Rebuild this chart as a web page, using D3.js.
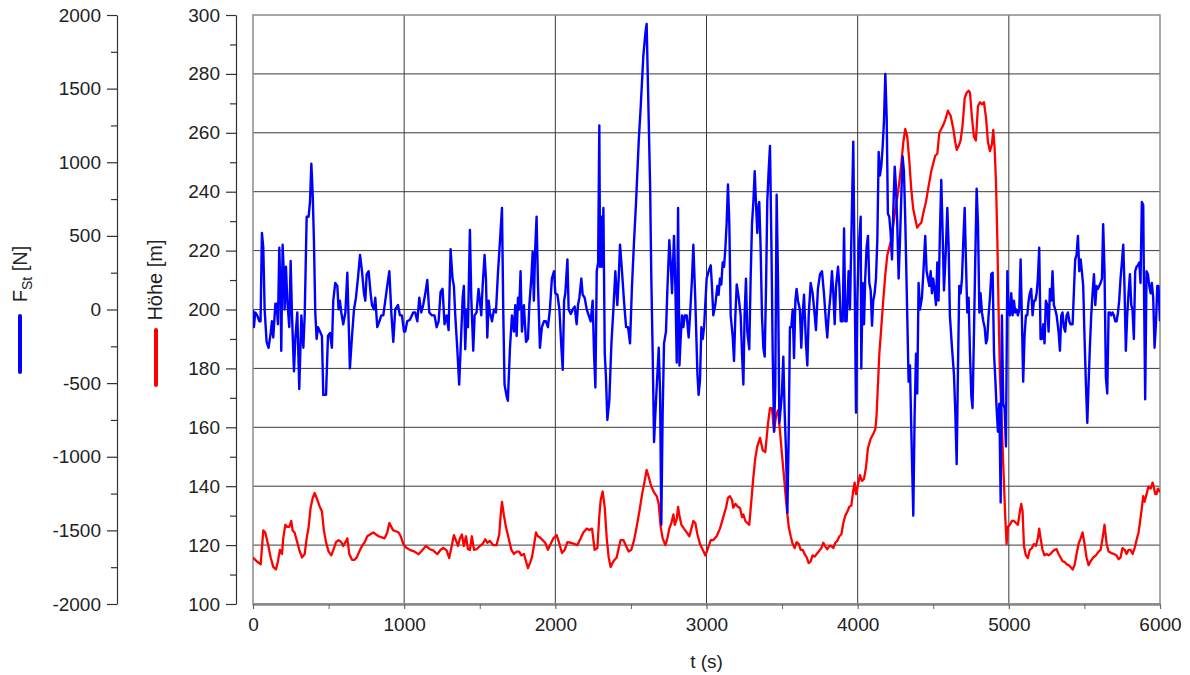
<!DOCTYPE html>
<html>
<head>
<meta charset="utf-8">
<script src="https://cdn.jsdelivr.net/npm/d3@7"></script>
<style>
  body { margin: 0; background: #fff; }
  svg { font-family: "Liberation Sans", Arial, sans-serif; }
</style>
</head>
<body>
<div id="chart"></div>
<script>
// t in s, force in N (blue series)
const forceSeries = [[0,0],[6,-120],[15,-20],[28,-40],[42,-80],[50,-80],[59,520],[68,420],[77,0],[90,-220],[103,-260],[117,-160],[125,-80],[134,-190],[148,40],[156,40],[165,-100],[174,420],[183,80],[187,-280],[196,440],[205,220],[209,0],[218,290],[227,60],[240,-120],[249,330],[258,-40],[271,-420],[280,-200],[293,-20],[306,-540],[320,-40],[333,-260],[342,-40],[355,630],[368,630],[377,730],[386,990],[395,780],[403,470],[412,-20],[421,-200],[430,-120],[443,-150],[456,-180],[465,-580],[483,-580],[496,-180],[509,-160],[522,-260],[531,60],[544,180],[558,160],[566,0],[575,60],[584,-20],[597,-100],[611,-20],[624,250],[641,-400],[655,-180],[668,0],[681,80],[694,210],[708,370],[721,260],[734,110],[743,60],[752,240],[765,260],[778,110],[787,30],[800,0],[809,80],[822,-120],[836,-80],[849,-40],[862,-40],[875,60],[888,160],[902,260],[915,-20],[928,-220],[941,0],[959,30],[972,-40],[985,-40],[999,-150],[1007,-150],[1020,-80],[1038,-70],[1060,-20],[1073,-20],[1087,-80],[1100,80],[1113,-20],[1126,30],[1140,110],[1153,200],[1166,-20],[1184,-40],[1201,-40],[1215,-120],[1228,-80],[1241,120],[1254,140],[1267,-100],[1281,-40],[1294,-140],[1307,410],[1320,210],[1329,160],[1338,-40],[1351,-260],[1364,-510],[1378,-150],[1387,80],[1395,160],[1404,-270],[1413,0],[1422,-120],[1435,540],[1444,80],[1457,-280],[1466,-40],[1479,-20],[1492,140],[1501,60],[1510,-40],[1519,160],[1532,370],[1541,210],[1550,-190],[1559,60],[1567,-20],[1581,-80],[1594,0],[1607,-20],[1620,240],[1634,470],[1647,690],[1656,-40],[1664,-510],[1678,-590],[1686,-620],[1700,-260],[1713,-40],[1726,-150],[1735,30],[1744,-180],[1753,80],[1761,0],[1770,260],[1779,-150],[1792,30],[1806,-220],[1819,-200],[1828,30],[1841,210],[1850,390],[1858,60],[1867,420],[1876,630],[1885,180],[1898,-260],[1911,-120],[1925,-80],[1938,-80],[1951,-120],[1964,0],[1977,210],[1991,260],[2000,110],[2014,100],[2027,0],[2040,-260],[2049,-410],[2058,60],[2066,110],[2080,340],[2088,0],[2102,-30],[2115,0],[2128,20],[2141,-100],[2150,30],[2159,80],[2172,210],[2181,100],[2194,80],[2208,0],[2221,-40],[2234,-80],[2247,60],[2256,-300],[2265,-530],[2274,260],[2283,320],[2291,1250],[2296,290],[2305,630],[2309,290],[2318,690],[2327,-300],[2335,-460],[2344,-750],[2357,-620],[2371,-230],[2384,0],[2397,260],[2410,30],[2419,210],[2428,440],[2441,260],[2454,60],[2468,-120],[2481,-120],[2494,-230],[2507,160],[2521,470],[2534,730],[2552,1150],[2565,1380],[2582,1720],[2596,1880],[2604,1940],[2613,1510],[2627,840],[2635,210],[2644,-300],[2653,-900],[2662,-700],[2675,-440],[2684,-260],[2693,-570],[2701,-1460],[2710,-700],[2719,-230],[2732,-150],[2741,130],[2754,470],[2763,320],[2772,110],[2785,500],[2794,160],[2803,-360],[2812,690],[2821,-380],[2829,-200],[2838,-40],[2847,-120],[2856,-40],[2869,-40],[2882,-190],[2891,-40],[2904,210],[2913,440],[2926,60],[2940,-440],[2948,-580],[2957,-480],[2966,-120],[2975,-200],[2984,-120],[3001,210],[3014,260],[3028,300],[3036,160],[3045,-40],[3058,30],[3072,160],[3080,100],[3089,210],[3098,170],[3107,320],[3116,290],[3125,420],[3133,580],[3142,850],[3151,580],[3160,-40],[3173,-180],[3182,-350],[3191,-40],[3200,170],[3213,80],[3226,-40],[3235,-300],[3244,-510],[3252,-40],[3261,210],[3270,-150],[3283,-270],[3292,210],[3301,580],[3310,730],[3319,940],[3327,730],[3336,520],[3345,710],[3349,730],[3358,420],[3367,-40],[3376,-260],[3385,-320],[3394,160],[3402,730],[3411,940],[3420,1110],[3429,470],[3438,-300],[3447,-830],[3455,-510],[3464,780],[3473,210],[3482,-770],[3491,-670],[3499,-570],[3508,-320],[3517,-700],[3526,-960],[3535,-1380],[3544,-830],[3552,-120],[3561,-120],[3570,0],[3579,-330],[3588,60],[3596,140],[3605,60],[3618,0],[3627,-260],[3636,-40],[3645,100],[3658,-230],[3667,-380],[3676,-40],[3689,180],[3702,110],[3716,-40],[3724,-140],[3737,140],[3751,240],[3764,260],[3777,110],[3790,-80],[3799,-190],[3808,-40],[3821,110],[3830,260],[3839,110],[3848,-100],[3857,160],[3870,290],[3879,160],[3888,-80],[3901,-80],[3910,550],[3918,-80],[3927,-80],[3940,260],[3949,0],[3958,470],[3971,1140],[3980,210],[3989,-700],[3998,80],[4007,420],[4020,630],[4024,-400],[4033,180],[4042,-100],[4050,210],[4059,420],[4068,500],[4077,180],[4086,130],[4095,-110],[4103,60],[4112,110],[4121,210],[4130,470],[4139,1070],[4147,910],[4156,970],[4165,1100],[4174,1280],[4183,1600],[4192,1300],[4200,650],[4209,630],[4218,520],[4227,340],[4236,680],[4245,970],[4253,840],[4262,580],[4271,210],[4280,470],[4289,780],[4297,1040],[4306,940],[4315,600],[4328,-40],[4337,-490],[4346,-380],[4355,-830],[4368,-1400],[4377,-700],[4386,-300],[4394,-570],[4403,180],[4412,0],[4425,80],[4434,240],[4447,500],[4456,260],[4465,210],[4474,160],[4483,260],[4491,110],[4500,210],[4509,130],[4518,30],[4527,320],[4535,60],[4544,520],[4553,880],[4562,520],[4571,130],[4584,420],[4593,690],[4602,420],[4610,-40],[4624,-260],[4637,-440],[4646,-700],[4655,-1050],[4663,-440],[4672,160],[4681,110],[4690,210],[4699,470],[4708,690],[4716,340],[4725,-20],[4734,80],[4743,-300],[4752,-590],[4760,-670],[4769,-180],[4778,340],[4787,820],[4796,580],[4805,-20],[4813,110],[4822,-20],[4831,-80],[4840,-120],[4849,-230],[4857,-200],[4866,-40],[4875,80],[4884,240],[4893,250],[4902,-300],[4910,-460],[4919,-670],[4928,-830],[4937,-640],[4946,-1310],[4954,-40],[4963,-640],[4972,-670],[4981,-930],[4990,260],[4998,-20],[5007,-40],[5016,110],[5025,-40],[5034,60],[5042,-20],[5051,0],[5060,-40],[5069,0],[5078,340],[5086,-40],[5095,-490],[5104,-180],[5113,-40],[5122,-40],[5131,60],[5139,110],[5148,140],[5157,-40],[5166,60],[5175,60],[5184,110],[5192,210],[5201,420],[5210,-200],[5219,-200],[5228,-100],[5236,-230],[5245,60],[5254,30],[5263,-150],[5272,140],[5281,60],[5289,260],[5298,30],[5307,0],[5316,-40],[5329,-150],[5338,-280],[5347,-40],[5355,-20],[5364,-120],[5373,-150],[5382,-40],[5391,-20],[5400,-80],[5408,-100],[5422,-100],[5430,110],[5439,340],[5448,370],[5457,500],[5466,260],[5475,340],[5483,260],[5492,160],[5501,-200],[5510,-510],[5519,-770],[5528,-490],[5536,-260],[5545,-40],[5554,110],[5563,240],[5572,30],[5580,160],[5589,140],[5598,160],[5607,180],[5616,210],[5624,580],[5633,260],[5642,-460],[5651,-570],[5660,-20],[5669,-20],[5677,-40],[5686,-20],[5695,-40],[5704,-80],[5713,-80],[5722,-20],[5730,60],[5739,210],[5748,320],[5757,440],[5765,160],[5774,-280],[5783,-40],[5792,110],[5801,240],[5810,30],[5818,0],[5827,-200],[5836,260],[5845,290],[5854,300],[5863,320],[5871,180],[5880,730],[5889,710],[5893,260],[5902,-610],[5911,260],[5920,240],[5929,160],[5938,110],[5946,180],[5955,80],[5964,-260],[5973,-100],[5982,160],[5990,160],[6000,-80]];

// t in s, height in m (red series)
const heightSeries = [[0,115.8],[24,114.5],[51,113.5],[68,125],[81,124.3],[99,120.4],[117,115.8],[134,112.6],[152,111.7],[165,114.5],[178,118.4],[192,117],[200,122.3],[214,126.9],[227,126.2],[240,126.2],[253,128.2],[262,125],[275,124.3],[289,121.7],[306,118.4],[324,115.8],[342,117],[355,122.3],[368,126.2],[381,132.7],[395,136],[408,137.7],[421,136],[439,133.4],[456,131.4],[469,125],[483,121],[500,117.8],[518,116.5],[536,119],[549,121],[566,121.7],[584,121],[597,119.7],[611,121],[624,122.3],[637,117],[655,115],[672,115],[686,115.8],[703,117.8],[721,119.7],[739,121],[756,123],[774,123.6],[796,124.3],[814,123.6],[831,123],[853,122.6],[871,122.3],[888,124.3],[902,127.5],[915,126.2],[928,125],[946,124.7],[963,124.3],[977,123],[994,120.4],[1016,119],[1038,118.4],[1069,117.8],[1095,116.9],[1118,118.2],[1144,119.7],[1170,118.6],[1192,118.2],[1219,116.9],[1241,118.4],[1259,119],[1281,118.2],[1298,115.6],[1316,120],[1329,123.4],[1342,121.7],[1356,119.7],[1369,122.3],[1382,123.6],[1395,119.7],[1409,123],[1422,118.6],[1435,118.4],[1448,123],[1462,118.4],[1479,118.6],[1501,119.7],[1519,120.4],[1536,122],[1550,120.8],[1567,121.4],[1589,120],[1611,120],[1629,123.6],[1638,130],[1647,134.7],[1660,130],[1673,126.2],[1691,122.3],[1709,118.4],[1726,117],[1744,117.8],[1761,117.8],[1775,116.5],[1792,117],[1806,114.5],[1819,112.2],[1832,113.9],[1845,115.8],[1858,119.7],[1872,124.3],[1885,123],[1898,122.6],[1916,121.7],[1933,120.8],[1951,118.4],[1969,120.4],[1987,122.3],[2009,123.4],[2027,120.4],[2044,117.3],[2062,118.4],[2080,121],[2102,120.8],[2124,120.4],[2146,120],[2168,122.3],[2185,124.3],[2208,125.6],[2225,125.1],[2243,125.6],[2260,118.4],[2278,119],[2291,130],[2300,135.3],[2313,138.2],[2327,132.7],[2340,122.3],[2353,115.8],[2366,112.6],[2384,114.5],[2406,115.8],[2419,119],[2432,121.7],[2450,121.7],[2468,119.7],[2485,117.8],[2503,118.4],[2521,121.7],[2538,126.2],[2556,131.4],[2574,137.3],[2591,141.8],[2604,145.5],[2618,143.1],[2635,139.9],[2653,137.9],[2671,136.6],[2684,134],[2697,126.2],[2710,122.3],[2728,120],[2741,122.3],[2754,125.6],[2768,127.5],[2781,130.4],[2790,126.9],[2803,128.8],[2812,133],[2821,130],[2834,126.9],[2851,125.6],[2869,124.3],[2887,123],[2900,125.6],[2913,128.2],[2926,127.5],[2940,123.6],[2957,120.4],[2975,118.4],[2993,116.5],[3010,119],[3028,121.7],[3045,121.7],[3067,123],[3089,125.6],[3111,129.5],[3129,132.7],[3142,136],[3155,136.6],[3169,135.3],[3177,132.7],[3191,134],[3208,133],[3222,132.5],[3235,129.5],[3244,130.4],[3257,128.2],[3270,127.5],[3283,126.9],[3297,135.3],[3310,143.1],[3323,149.6],[3336,153.5],[3354,156.4],[3372,152.2],[3389,151.6],[3407,161.3],[3420,166.5],[3433,166.5],[3447,158.7],[3460,163.9],[3473,165.8],[3486,158.7],[3499,150.9],[3513,143.1],[3526,135.3],[3535,130.4],[3544,126.2],[3557,123],[3570,120.4],[3583,119],[3596,121],[3610,120.4],[3623,118.4],[3636,118.4],[3649,117],[3663,115.8],[3676,113.9],[3689,114.5],[3702,116.5],[3716,116.1],[3729,117],[3742,117.8],[3760,119],[3773,120.8],[3786,119.5],[3799,118.6],[3813,119.7],[3826,119.7],[3839,119],[3852,120.8],[3865,121.4],[3879,123],[3892,123.6],[3905,127.5],[3918,130],[3932,131.4],[3945,133],[3958,133.4],[3971,138.6],[3980,141.2],[3989,137.3],[4002,140.5],[4015,143.8],[4028,141.8],[4042,142.5],[4055,146.4],[4068,152.9],[4086,156.1],[4103,157.7],[4117,159.4],[4125,163.9],[4134,174.3],[4143,184.7],[4156,193.8],[4169,202.9],[4183,212],[4196,218.4],[4209,221],[4222,223.6],[4236,228.8],[4249,234],[4262,237.9],[4275,243.1],[4289,249.6],[4302,256.8],[4315,261.3],[4328,258.7],[4341,250.9],[4355,240.5],[4368,234],[4381,230.8],[4394,227.8],[4408,228.8],[4421,229.5],[4434,232.7],[4452,236.6],[4469,241.8],[4487,247],[4500,249.6],[4513,252.2],[4527,252.9],[4540,260],[4553,261.3],[4566,262.6],[4580,264.5],[4597,267.5],[4615,265.8],[4633,261.3],[4646,256.8],[4655,254.2],[4668,255.5],[4681,257.4],[4694,262.6],[4708,271.7],[4721,273.6],[4734,274.3],[4743,273.6],[4756,265.2],[4769,258.7],[4782,257.4],[4796,269.1],[4809,270.4],[4822,269.7],[4835,270.4],[4849,265.2],[4862,256.8],[4875,253.8],[4888,256.1],[4897,261],[4906,254.8],[4915,243.1],[4924,223.6],[4932,200.3],[4941,178.2],[4955,158.7],[4968,140.5],[4977,128.8],[4985,120.4],[4994,126.2],[5007,126.9],[5020,128.2],[5034,128.2],[5047,127.5],[5060,126.9],[5073,131.4],[5082,134],[5091,131.4],[5100,119.7],[5113,116.5],[5126,115.6],[5139,118.4],[5153,119],[5166,120.4],[5179,119.7],[5192,122.3],[5201,125.6],[5210,122.3],[5223,118.4],[5236,116.5],[5250,117],[5263,116.5],[5276,117],[5289,117.8],[5303,118.4],[5316,118.6],[5329,117],[5342,115.8],[5356,114.5],[5369,114.3],[5382,113.5],[5395,113.2],[5408,112.6],[5422,111.7],[5435,113.2],[5448,117],[5461,120.4],[5475,122.3],[5488,124.3],[5501,120.4],[5514,115.8],[5528,113.2],[5541,114.5],[5558,115.8],[5576,116.5],[5594,117.8],[5607,118.4],[5620,122.3],[5633,126.9],[5647,120.4],[5660,117.8],[5677,117.3],[5695,117],[5713,116.5],[5726,115.2],[5739,115.8],[5752,119],[5766,118.4],[5779,117],[5792,118.4],[5805,118.4],[5819,117],[5832,119],[5845,121.7],[5858,124.3],[5867,127.5],[5880,132.7],[5889,136.6],[5898,134.7],[5911,137.3],[5924,139.9],[5938,139.2],[5951,141.2],[5960,139.5],[5969,137.3],[5977,137.3],[5986,139.2],[6000,138]];

const timeTicks = [0, 1000, 2000, 3000, 4000, 5000, 6000];
const heightTicks = [100, 120, 140, 160, 180, 200, 220, 240, 260, 280, 300];
const forceTicks = [-2000, -1500, -1000, -500, 0, 500, 1000, 1500, 2000];

const width = 1190, height = 675;
const plot = { left: 253, right: 1160, top: 15, bottom: 604 };

const svg = d3.select("#chart").append("svg")
  .attr("width", width)
  .attr("height", height);

const x = d3.scaleLinear().domain([0, 6000]).range([plot.left, plot.right]);
const yH = d3.scaleLinear().domain([100, 300]).range([plot.bottom, plot.top]);
const yF = d3.scaleLinear().domain([-2000, 2000]).range([plot.bottom, plot.top]);

const plain = d => String(d); // no thousands separators, ascii minus

// grid
const grid = svg.append("g").attr("stroke", "#3a3a3a").attr("stroke-width", 1);
grid.selectAll(".gx").data(timeTicks.slice(1, -1)).enter().append("line")
  .attr("x1", d => x(d)).attr("x2", d => x(d))
  .attr("y1", plot.top).attr("y2", plot.bottom);
grid.selectAll(".gy").data(heightTicks.slice(1, -1)).enter().append("line")
  .attr("x1", plot.left).attr("x2", plot.right)
  .attr("y1", d => yH(d)).attr("y2", d => yH(d));

// frame
svg.append("rect")
  .attr("x", plot.left).attr("y", plot.top)
  .attr("width", plot.right - plot.left).attr("height", plot.bottom - plot.top)
  .attr("fill", "none").attr("stroke", "#8a8a8a").attr("stroke-width", 1.5);

// series
svg.append("clipPath").attr("id", "clip").append("rect")
  .attr("x", plot.left).attr("y", plot.top)
  .attr("width", plot.right - plot.left).attr("height", plot.bottom - plot.top);

svg.append("path")
  .datum(heightSeries)
  .attr("clip-path", "url(#clip)")
  .attr("fill", "none").attr("stroke", "#ff0000").attr("stroke-width", 2.3)
  .attr("stroke-linejoin", "round")
  .attr("d", d3.line().x(d => x(d[0])).y(d => yH(d[1])));

svg.append("path")
  .datum(forceSeries)
  .attr("clip-path", "url(#clip)")
  .attr("fill", "none").attr("stroke", "#0000ff").attr("stroke-width", 2.4)
  .attr("stroke-linejoin", "round")
  .attr("d", d3.line().x(d => x(d[0])).y(d => yF(d[1])));

const fontSize = "19px";
function styleAxis(g, color) {
  g.select(".domain").attr("stroke", color).attr("stroke-width", 1.2);
  g.selectAll(".tick line").attr("stroke", color).attr("stroke-width", 1.2);
  g.selectAll(".tick text").attr("fill", "#222").style("font-size", fontSize);
}

// x axis
const xAxis = svg.append("g")
  .attr("transform", `translate(0,${plot.bottom})`)
  .call(d3.axisBottom(x).tickValues(timeTicks).tickFormat(plain).tickSize(5).tickPadding(9).tickSizeOuter(0));
styleAxis(xAxis, "#666");
xAxis.select(".domain").attr("stroke", "#888").attr("stroke-width", 2.5);
svg.append("g")
  .attr("transform", `translate(0,${plot.bottom})`)
  .call(d3.axisBottom(x).tickValues(d3.range(500, 6000, 1000)).tickSize(5).tickFormat("").tickSizeOuter(0))
  .call(g => g.select(".domain").remove())
  .call(g => g.selectAll(".tick line").attr("stroke", "#666"));

// height axis
const hx = 236;
const hAxis = svg.append("g")
  .attr("transform", `translate(${hx},0)`)
  .call(d3.axisLeft(yH).tickValues(heightTicks).tickFormat(plain).tickSize(10).tickPadding(6).tickSizeOuter(0));
styleAxis(hAxis, "#333");
svg.append("g")
  .attr("transform", `translate(${hx},0)`)
  .call(d3.axisLeft(yH).tickValues(d3.range(110, 300, 20)).tickSize(6).tickFormat("").tickSizeOuter(0))
  .call(g => g.select(".domain").remove())
  .call(g => g.selectAll(".tick line").attr("stroke", "#333").attr("stroke-width", 1.2));

// force axis
const fx = 117;
const fAxis = svg.append("g")
  .attr("transform", `translate(${fx},0)`)
  .call(d3.axisLeft(yF).tickValues(forceTicks).tickFormat(plain).tickSize(10).tickPadding(6).tickSizeOuter(0));
styleAxis(fAxis, "#333");
svg.append("g")
  .attr("transform", `translate(${fx},0)`)
  .call(d3.axisLeft(yF).tickValues(d3.range(-1750, 2000, 500)).tickSize(6).tickFormat("").tickSizeOuter(0))
  .call(g => g.select(".domain").remove())
  .call(g => g.selectAll(".tick line").attr("stroke", "#333").attr("stroke-width", 1.2));

// axis titles
const fTitle = svg.append("text")
  .attr("transform", "translate(27,274) rotate(-90)")
  .attr("text-anchor", "middle")
  .attr("fill", "#222").style("font-size", "20px");
fTitle.append("tspan").text("F");
fTitle.append("tspan").attr("dy", 5).style("font-size", "14px").text("St");
fTitle.append("tspan").attr("dy", -5).text(" [N]");
svg.append("line")
  .attr("x1", 20).attr("x2", 20).attr("y1", 316).attr("y2", 372)
  .attr("stroke", "#0000ff").attr("stroke-width", 4).attr("stroke-linecap", "round");

svg.append("text")
  .attr("transform", "translate(162,280) rotate(-90)")
  .attr("text-anchor", "middle")
  .attr("fill", "#222").style("font-size", "20px")
  .text("Höhe [m]");
svg.append("line")
  .attr("x1", 156).attr("x2", 156).attr("y1", 330).attr("y2", 385)
  .attr("stroke", "#ff0000").attr("stroke-width", 4).attr("stroke-linecap", "round");

svg.append("text")
  .attr("x", (plot.left + plot.right) / 2).attr("y", 668)
  .attr("text-anchor", "middle")
  .attr("fill", "#222").style("font-size", "19px")
  .text("t (s)");
</script>
</body>
</html>
